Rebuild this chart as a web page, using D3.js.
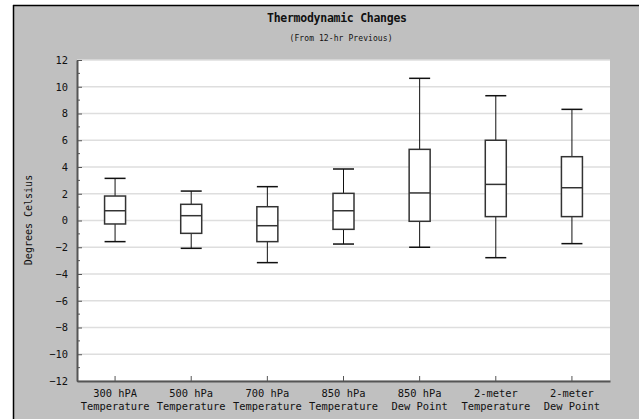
<!DOCTYPE html>
<html>
<head>
<meta charset="utf-8">
<script src="https://cdn.jsdelivr.net/npm/d3@7"></script>
<style>
  body { margin: 0; background: #fff; overflow: hidden; }
  text { font-family: "DejaVu Sans Mono", monospace; fill: #111; }
</style>
</head>
<body>
<script>
// box plot values
var labelTop    = ["300 hPA", "500 hPa", "700 hPa", "850 hPa", "850 hPa", "2-meter", "2-meter"];
var labelBottom = ["Temperature", "Temperature", "Temperature", "Temperature", "Dew Point", "Temperature", "Dew Point"];
var highs   = [3.15, 2.2, 2.53, 3.85, 10.63, 9.33, 8.31];
var q3s     = [1.83, 1.21, 1.03, 2.03, 5.32, 6.0, 4.77];
var medians = [0.73, 0.36, -0.39, 0.73, 2.06, 2.7, 2.45];
var q1s     = [-0.26, -0.96, -1.58, -0.66, -0.06, 0.29, 0.29];
var lows    = [-1.58, -2.08, -3.15, -1.76, -2.0, -2.78, -1.73];
var yTicks  = [-12, -10, -8, -6, -4, -2, 0, 2, 4, 6, 8, 10, 12];
var yMinor  = [-11, -9, -7, -5, -3, -1, 1, 3, 5, 7, 9, 11];

var width  = 639;
var height = 419;
var margin = {left:77, right:29, top:60, bottom:38};

var svg = d3.select("body").append("svg").attr("width", width).attr("height", height).style("display","block");

// grey panel with dark edge on top and left
svg.append("rect").attr("x",14).attr("y",6).attr("width",width-14).attr("height",height-6).attr("fill","#c0c0c0");
svg.append("line").attr("x1",13.5).attr("y1",5).attr("x2",13.5).attr("y2",height).attr("stroke","#000").attr("stroke-width",1.5);
svg.append("line").attr("x1",13).attr("y1",5.5).attr("x2",width).attr("y2",5.5).attr("stroke","#000").attr("stroke-width",1.5);

var plotW = width - margin.left - margin.right;
var plotH = height - margin.top - margin.bottom;

var x = d3.scaleBand().domain(d3.range(labelTop.length)).range([0, plotW]);
var y = d3.scaleLinear().domain([-12, 12]).range([plotH, 0]);

var chartGroup = svg.append("g").attr("transform", "translate("+margin.left+", "+margin.top+")");

chartGroup.append("rect").attr("width", plotW).attr("height", plotH).attr("fill", "#fff");

// grid
chartGroup.append("g").selectAll("line").data(yTicks).enter().append("line")
    .attr("x1", 0).attr("x2", plotW)
    .attr("y1", function(d){return y(d);}).attr("y2", function(d){return y(d);})
    .attr("stroke", "#dedede").attr("stroke-width", 1.5);

// titles
svg.append("text").attr("x", 337).attr("y", 22).attr("text-anchor","middle")
    .attr("font-size", 11.5).attr("font-weight","bold").attr("textLength", 140).attr("lengthAdjust","spacing")
    .text("Thermodynamic Changes");
svg.append("text").attr("x", 341).attr("y", 41).attr("text-anchor","middle")
    .attr("font-size", 8).attr("textLength", 103).attr("lengthAdjust","spacing")
    .text("(From 12-hr Previous)");

// y axis
var yAxis = d3.axisLeft(y).tickValues(yTicks).tickSizeInner(-5).tickSizeOuter(0).tickPadding(9);
var yG = chartGroup.append("g").attr("class","y axis").call(yAxis);
yG.selectAll("text").attr("font-size", 10.4).attr("font-family","DejaVu Sans Mono").attr("fill","#111");
chartGroup.append("g").selectAll("line").data(yMinor).enter().append("line")
    .attr("x1", 0).attr("x2", 3)
    .attr("y1", function(d){return y(d);}).attr("y2", function(d){return y(d);})
    .attr("stroke", "#555");

// x axis
var xAxis = d3.axisBottom(x).tickSizeInner(-5).tickSizeOuter(0).tickFormat("");
var xG = chartGroup.append("g").attr("class","x axis").attr("transform","translate(0, "+plotH+")").call(xAxis);
xG.selectAll(".tick").append("text").attr("y", 16).attr("font-size", 10.4).attr("text-anchor","middle")
    .attr("fill","#111").text(function(d){return labelTop[d];});
xG.selectAll(".tick").append("text").attr("y", 29).attr("font-size", 10.4).attr("text-anchor","middle")
    .attr("fill","#111").text(function(d){return labelBottom[d];});

svg.selectAll(".axis path").attr("stroke","#555").attr("stroke-width",2);
svg.selectAll(".axis .tick line").attr("stroke","#555");

svg.append("text").attr("transform","translate(32, 220) rotate(-90)").attr("text-anchor","middle")
    .attr("font-size", 10).text("Degrees Celsius");

// boxes
var bw = 21;
var boxes = chartGroup.append("g").selectAll("g").data(d3.range(labelTop.length)).enter().append("g")
    .attr("transform", function(d){return "translate("+(x(d)+x.bandwidth()/2)+",0)";});

boxes.append("line").attr("x1",0).attr("x2",0)
    .attr("y1", function(d){return y(highs[d]);}).attr("y2", function(d){return y(lows[d]);})
    .attr("stroke","#111");
boxes.append("line").attr("x1",-bw/2).attr("x2",bw/2)
    .attr("y1", function(d){return y(highs[d]);}).attr("y2", function(d){return y(highs[d]);})
    .attr("stroke","#111").attr("stroke-width",1.5);
boxes.append("line").attr("x1",-bw/2).attr("x2",bw/2)
    .attr("y1", function(d){return y(lows[d]);}).attr("y2", function(d){return y(lows[d]);})
    .attr("stroke","#111").attr("stroke-width",1.5);
boxes.append("rect").attr("x",-bw/2).attr("width",bw)
    .attr("y", function(d){return y(q3s[d]);})
    .attr("height", function(d){return y(q1s[d]) - y(q3s[d]);})
    .attr("fill","#fff").attr("stroke","#333").attr("stroke-width",1.5);
boxes.append("line").attr("x1",-bw/2).attr("x2",bw/2)
    .attr("y1", function(d){return y(medians[d]);}).attr("y2", function(d){return y(medians[d]);})
    .attr("stroke","#333").attr("stroke-width",1.5);
</script>
</body>
</html>
